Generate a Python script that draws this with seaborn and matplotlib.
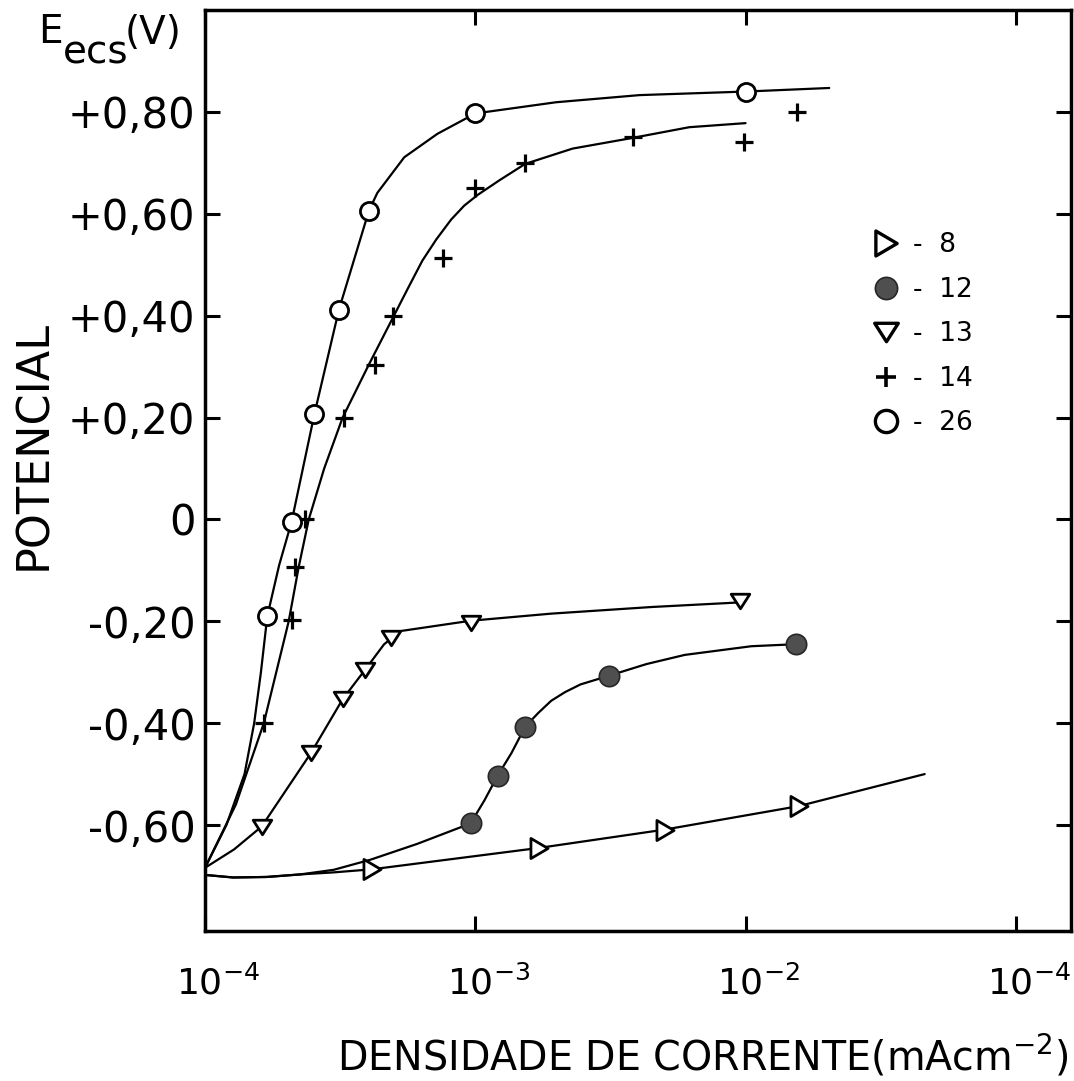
import matplotlib
matplotlib.use("Agg")
import matplotlib.pyplot as plt
import matplotlib.transforms as mtransforms
from matplotlib.lines import Line2D
from matplotlib.markers import MarkerStyle
from matplotlib.path import Path
import seaborn as sns

# ---------------------------------------------------------------- data
# current density (mA cm^-2) and potential vs. SCE (V)

# measured points, sample 8
amostra_8_j = [4.14e-4, 1.72e-3, 5.02e-3, 1.57e-2]
amostra_8_E = [-0.687, -0.645, -0.609, -0.563]
# sample 12
amostra_12_j = [9.6e-4, 1.21e-3, 1.53e-3, 3.12e-3, 1.54e-2]
amostra_12_E = [-0.597, -0.503, -0.407, -0.307, -0.245]
# sample 13
amostra_13_j = [1.62e-4, 2.47e-4, 3.23e-4, 3.9e-4, 4.86e-4, 9.6e-4, 9.5e-3]
amostra_13_E = [-0.603, -0.458, -0.353, -0.296, -0.232, -0.203, -0.160]
# sample 14
amostra_14_j = [1.65e-4, 2.09e-4, 2.16e-4, 2.35e-4, 3.28e-4, 4.26e-4, 4.97e-4,
                7.6e-4, 1.0e-3, 1.53e-3, 3.82e-3, 9.9e-3, 1.55e-2]
amostra_14_E = [-0.40, -0.198, -0.094, 0.0, 0.20, 0.303, 0.40,
                0.514, 0.65, 0.70, 0.75, 0.74, 0.80]
# sample 26
amostra_26_j = [1.70e-4, 2.09e-4, 2.54e-4, 3.13e-4, 4.04e-4, 1.0e-3, 1.0e-2]
amostra_26_E = [-0.19, -0.005, 0.207, 0.412, 0.606, 0.797, 0.84]

# hand-drawn polarization curves
curva_8_j = [1.0e-4, 1.27e-4, 1.69e-4, 2.25e-4, 2.99e-4, 4.14e-4, 1.72e-3,
             5.02e-3, 1.57e-2, 4.6e-2]
curva_8_E = [-0.698, -0.703, -0.702, -0.697, -0.693, -0.687, -0.645,
             -0.609, -0.563, -0.500]

curva_12_j = [1.0e-4, 1.27e-4, 1.69e-4, 2.25e-4, 2.99e-4, 4.1e-4, 6.1e-4,
              9.6e-4, 1.08e-3, 1.21e-3, 1.36e-3, 1.53e-3, 1.71e-3, 1.91e-3,
              2.15e-3, 2.45e-3, 3.12e-3, 4.3e-3, 5.96e-3, 1.05e-2, 1.54e-2]
curva_12_E = [-0.698, -0.703, -0.702, -0.697, -0.688, -0.668, -0.637,
              -0.597, -0.552, -0.503, -0.459, -0.407, -0.380, -0.356,
              -0.339, -0.324, -0.307, -0.284, -0.266, -0.249, -0.245]

curva_13_j = [1.0e-4, 1.28e-4, 1.62e-4, 2.47e-4, 3.23e-4, 3.9e-4, 4.6e-4,
              5.32e-4, 9.6e-4, 1.91e-3, 4.49e-3, 9.5e-3]
curva_13_E = [-0.684, -0.648, -0.603, -0.458, -0.353, -0.296, -0.245,
              -0.219, -0.199, -0.185, -0.172, -0.163]

curva_14_j = [1.0e-4, 1.30e-4, 1.65e-4, 2.04e-4, 2.22e-4, 2.42e-4, 2.76e-4,
              3.23e-4, 4.03e-4, 5.0e-4, 5.65e-4, 6.37e-4, 7.18e-4, 8.15e-4,
              9.1e-4, 1.02e-3, 1.23e-3, 1.53e-3, 2.29e-3, 3.82e-3, 6.19e-3,
              1.0e-2]
curva_14_E = [-0.684, -0.56, -0.40, -0.20, -0.094, 0.0, 0.10,
              0.20, 0.303, 0.40, 0.455, 0.508, 0.55, 0.589,
              0.616, 0.637, 0.666, 0.698, 0.728, 0.749, 0.770,
              0.778]

curva_26_j = [1.0e-4, 1.20e-4, 1.40e-4, 1.52e-4, 1.61e-4, 1.70e-4, 1.88e-4,
              2.09e-4, 2.54e-4, 3.13e-4, 4.04e-4, 4.34e-4, 5.46e-4, 7.24e-4,
              1.0e-3, 1.99e-3, 4.05e-3, 1.0e-2, 2.04e-2]
curva_26_E = [-0.684, -0.60, -0.50, -0.40, -0.30, -0.19, -0.09,
              -0.005, 0.207, 0.412, 0.606, 0.641, 0.711, 0.757,
              0.797, 0.819, 0.833, 0.84, 0.847]

# axis ticks and labels
x_ticks = [1e-4, 1e-3, 1e-2, 1e-1]
x_tick_labels = [r"$10^{-4}$", r"$10^{-3}$", r"$10^{-2}$", r"$10^{-4}$"]
y_ticks = [-0.6, -0.4, -0.2, 0.0, 0.2, 0.4, 0.6, 0.8]
y_tick_labels = ["-0,60", "-0,40", "-0,20", "0", "+0,20", "+0,40", "+0,60", "+0,80"]
legend_labels = ["-  8", "-  12", "-  13", "-  14", "-  26"]

# ---------------------------------------------------------------- style
sns.set_theme(style="ticks")
plt.rcParams["font.family"] = ["DejaVu Sans"]
plt.rcParams["mathtext.default"] = "regular"
plt.rcParams["text.color"] = "black"
plt.rcParams["axes.labelcolor"] = "black"

INK = "black"
LW = 1.6


def tri_marker(kind):
    if kind == "down":
        verts = [(-1.0, 0.78), (1.0, 0.78), (0.0, -0.78), (-1.0, 0.78)]
    else:
        verts = [(-0.85, -1.0), (-0.85, 1.0), (0.85, 0.0), (-0.85, -1.0)]
    return MarkerStyle(Path(verts, closed=True))


tri_down = tri_marker("down")
tri_right = tri_marker("right")

fig = plt.figure(figsize=(10.74, 10.81), dpi=100)
fig.patch.set_facecolor("white")
ax = fig.add_axes([0.1909, 0.1388, 0.9972 - 0.1909, 0.9907 - 0.1388])
ax.set_facecolor("white")
ax.set_xscale("log")

# curves
for cj, cE in [(curva_8_j, curva_8_E), (curva_12_j, curva_12_E),
               (curva_13_j, curva_13_E), (curva_14_j, curva_14_E),
               (curva_26_j, curva_26_E)]:
    sns.lineplot(x=cj, y=cE, ax=ax, sort=False, estimator=None,
                 color=INK, linewidth=LW, zorder=2)

# measured points
sns.scatterplot(x=amostra_8_j, y=amostra_8_E, ax=ax, marker=tri_right, s=210,
                color="white", edgecolor=INK, linewidth=2.0, zorder=3)
sns.scatterplot(x=amostra_12_j, y=amostra_12_E, ax=ax, marker="o", s=215,
                color="#4f4f4f", edgecolor="#262626", linewidth=1.2, zorder=3)
sns.scatterplot(x=amostra_13_j, y=amostra_13_E, ax=ax, marker=tri_down, s=180,
                color="white", edgecolor=INK, linewidth=2.0, zorder=3)
sns.scatterplot(x=amostra_14_j, y=amostra_14_E, ax=ax, marker="+", s=170,
                color=INK, linewidth=2.3, zorder=3)
sns.scatterplot(x=amostra_26_j, y=amostra_26_E, ax=ax, marker="o", s=170,
                color="white", edgecolor=INK, linewidth=2.0, zorder=3)

# axes
ax.set_xlim(1e-4, 0.16)
ax.set_ylim(-0.808, 1.0)
ax.set_xticks(x_ticks)
ax.set_xticklabels(x_tick_labels, fontsize=26)
ax.xaxis.set_minor_locator(matplotlib.ticker.NullLocator())
ax.set_yticks(y_ticks)
ax.set_yticklabels(y_tick_labels, fontsize=30)
ax.tick_params(axis="both", which="major", direction="in", top=True, right=True,
               length=11, width=2.2, color=INK, labelcolor=INK)
ax.tick_params(axis="x", pad=25)
ax.tick_params(axis="y", pad=7)
for sp in ax.spines.values():
    sp.set_linewidth(2.5)
    sp.set_color(INK)

shift = mtransforms.ScaledTranslation(13 / 100, 0, fig.dpi_scale_trans)
for lab in ax.get_xticklabels():
    lab.set_transform(lab.get_transform() + shift)

# legend
handles = [
    Line2D([], [], ls="none", marker=tri_right, markersize=18, mfc="white", mec=INK, mew=2.4),
    Line2D([], [], ls="none", marker="o", markersize=16, mfc="#4f4f4f", mec="#262626", mew=1.2),
    Line2D([], [], ls="none", marker=tri_down, markersize=17, mfc="white", mec=INK, mew=2.4),
    Line2D([], [], ls="none", marker="+", markersize=14, mec=INK, mew=2.6),
    Line2D([], [], ls="none", marker="o", markersize=16, mfc="white", mec=INK, mew=2.4),
]
leg = ax.legend(handles, legend_labels, loc="upper left", bbox_to_anchor=(0.771, 0.7585),
                frameon=False, fontsize=19, handlelength=1.0, handletextpad=0.52,
                labelspacing=0.70, borderpad=0.0, borderaxespad=0.0)
for t in leg.get_texts():
    t.set_color(INK)

# axis titles
W, H = 1074.0, 1081.0
fig.text(38 / W, 1 - 43 / H, "E", fontsize=28, ha="left", va="baseline", color=INK)
fig.text(63 / W, 1 - 64 / H, "ecs", fontsize=28, ha="left", va="baseline", color=INK)
fig.text(125 / W, 1 - 44 / H, "(V)", fontsize=28, ha="left", va="baseline", color=INK)
fig.text(34 / W, 1 - 445 / H, "POTENCIAL", fontsize=32, rotation=90,
         ha="center", va="center", color=INK)
fig.text(703 / W, 1 - 1071 / H, r"DENSIDADE DE CORRENTE(mAcm$^{-2}$)", fontsize=28.5,
         ha="center", va="baseline", color=INK)

fig.savefig("out.png", dpi=100, facecolor="white")
